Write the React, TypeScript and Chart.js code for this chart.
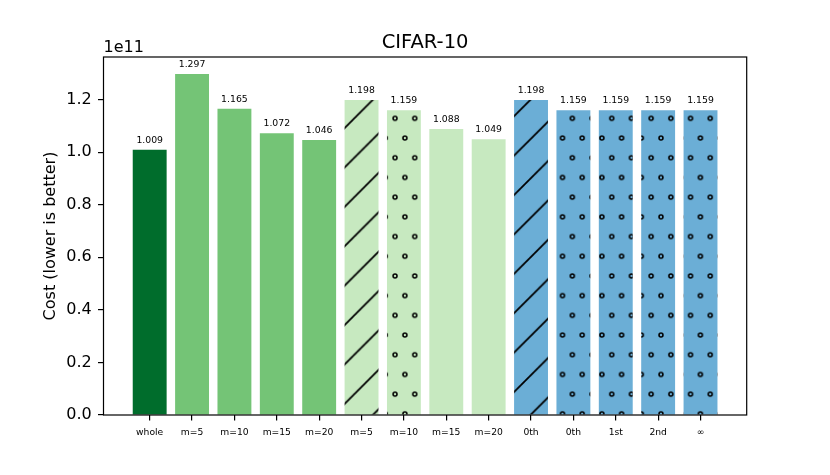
import { useEffect, useRef } from 'react';
import { Chart, registerables } from 'chart.js';

Chart.register(...registerables);

const FONT = "'DejaVu Sans', sans-serif";

// bar categories, left to right
const categories = ['whole', 'm=5', 'm=10', 'm=15', 'm=20', 'm=5', 'm=10', 'm=15', 'm=20', '0th', '0th', '1st', '2nd', '∞'];
// cost values, in units of 1e11
const costs = [1.009, 1.297, 1.165, 1.072, 1.046, 1.198, 1.159, 1.088, 1.049, 1.198, 1.159, 1.159, 1.159, 1.159];
const costExponent = 11;
const yTicks = [0, 0.2, 0.4, 0.6, 0.8, 1.0, 1.2];
const barColors = [
  '#006d2c',
  '#74c476', '#74c476', '#74c476', '#74c476',
  '#c7e9c0', '#c7e9c0', '#c7e9c0', '#c7e9c0',
  '#6baed6', '#6baed6', '#6baed6', '#6baed6', '#6baed6',
];
const hatches = ['', '', '', '', '', '/', 'o', '', '', '/', 'o', 'o', 'o', 'o'];

// builds a repeating hatch fill (bar colour + black lines or rings)
function makeFill(ctx: CanvasRenderingContext2D, color: string, hatch: string): string | CanvasPattern {
  if (!hatch) return color;
  const tile = document.createElement('canvas');
  tile.width = 40;
  tile.height = 40;
  const t = tile.getContext('2d')!;
  t.fillStyle = color;
  t.fillRect(0, 0, 40, 40);
  t.strokeStyle = '#000';
  if (hatch === '/') {
    t.lineWidth = 1.8;
    t.beginPath();
    for (const s of [0, 40, 80]) {
      t.moveTo(s - 50, 50);
      t.lineTo(s + 10, -10);
    }
    t.stroke();
  } else {
    t.lineWidth = 1.6;
    for (const [cx, cy] of [[5, 5], [25, 5], [15, 25], [35, 25]]) {
      t.beginPath();
      t.arc(cx, cy, 2.0, 0, Math.PI * 2);
      t.stroke();
    }
  }
  const pattern = ctx.createPattern(tile, 'repeat')!;
  const s = 0.985;
  const [tx, ty] = hatch === '/' ? [0, 472.6] : [390.1, 113.4];
  pattern.setTransform(new DOMMatrix([s, 0, 0, s, tx, ty]));
  return pattern;
}

const annotate = {
  id: 'annotate',
  afterDatasetsDraw(chart: Chart) {
    const { ctx, chartArea: a } = chart;
    const meta = chart.getDatasetMeta(0);
    ctx.save();
    ctx.fillStyle = '#000';
    ctx.font = `9.3px ${FONT}`;
    ctx.textAlign = 'center';
    ctx.textBaseline = 'alphabetic';
    meta.data.forEach((bar: any, i: number) => {
      ctx.fillText(costs[i].toFixed(3), bar.x, bar.y - 7);
    });
    ctx.strokeStyle = '#000';
    ctx.lineWidth = 1.2;
    ctx.strokeRect(a.left, a.top, a.right - a.left, a.bottom - a.top);
    ctx.font = `16px ${FONT}`;
    ctx.textAlign = 'left';
    ctx.fillText('1e' + costExponent, a.left, 51.7);
    ctx.font = `19.5px ${FONT}`;
    ctx.textAlign = 'center';
    ctx.fillText('CIFAR-10', (a.left + a.right) / 2, 47.7);
    ctx.restore();
  },
};

export default function App() {
  const canvasRef = useRef<HTMLCanvasElement | null>(null);

  useEffect(() => {
    if (!canvasRef.current) return;
    const ctx = canvasRef.current.getContext('2d');
    if (!ctx) return;

    const fills = barColors.map((c, i) => makeFill(ctx, c, hatches[i]));
    const n = categories.length;
    const margin = (n - 1 + 0.8) * 0.05;

    const chart = new Chart(ctx, {
      type: 'bar',
      data: {
        datasets: [
          {
            data: costs.map((v, i) => ({ x: i, y: v })),
            backgroundColor: fills as any,
            borderWidth: 0,
            barPercentage: 0.8,
            categoryPercentage: 1,
          },
        ],
      },
      options: {
        animation: false,
        responsive: true,
        maintainAspectRatio: false,
        layout: { padding: { left: 0, right: 83.3, top: 57, bottom: 0 } },
        plugins: {
          legend: { display: false },
          tooltip: { enabled: false },
          title: { display: false },
        },
        scales: {
          x: {
            type: 'linear',
            offset: false,
            min: -0.4 - margin,
            max: n - 1 + 0.4 + margin,
            afterBuildTicks: (scale: any) => {
              scale.ticks = categories.map((_, i) => ({ value: i }));
            },
            afterFit: (scale: any) => {
              scale.height = 60;
            },
            border: { display: false },
            grid: { offset: false, drawOnChartArea: false, drawTicks: true, tickLength: 5.5, color: '#000', lineWidth: 1.2 },
            ticks: {
              color: '#000',
              font: { family: FONT, size: 9.2 },
              padding: 6.5,
              maxRotation: 0,
              autoSkip: false,
              callback: (value: any) => categories[value] ?? '',
            },
          },
          y: {
            min: 0,
            max: Math.max(...costs) * 1.05,
            afterBuildTicks: (scale: any) => {
              scale.ticks = yTicks.map((v) => ({ value: v }));
            },
            afterFit: (scale: any) => {
              scale.width = 103.5;
            },
            border: { display: false },
            grid: { drawOnChartArea: false, drawTicks: true, tickLength: 5.5, color: '#000', lineWidth: 1.2 },
            ticks: {
              color: '#000',
              font: { family: FONT, size: 16 },
              padding: 6.3,
              callback: (value: any) => Number(value).toFixed(1),
            },
            title: {
              display: true,
              text: 'Cost (lower is better)',
              color: '#000',
              font: { family: FONT, size: 16 },
              padding: { top: 41.4, bottom: 0 },
            },
          },
        },
      },
      plugins: [annotate],
    });

    return () => {
      chart.destroy();
    };
  }, []);

  return (
    <div style={{ position: 'fixed', left: 0, top: 0, width: 830, height: 475, background: '#fff' }}>
      <canvas ref={canvasRef} />
    </div>
  );
}
